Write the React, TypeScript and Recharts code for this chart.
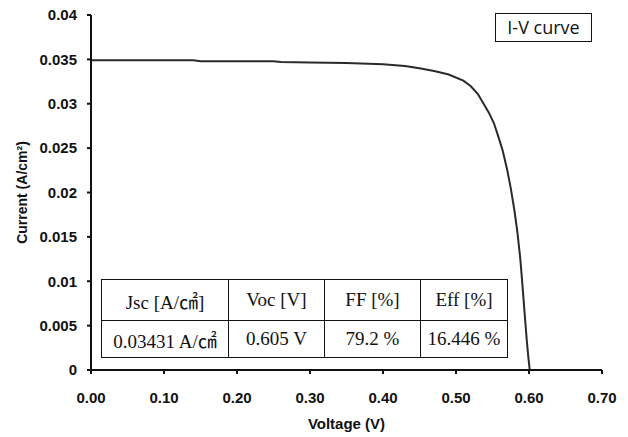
import { LineChart, Line, XAxis, YAxis, Label } from 'recharts';

const voltage = [
    0.0, 0.05, 0.1, 0.14, 0.15, 0.2, 0.25, 0.26, 0.3, 0.35, 0.4, 0.43, 0.45, 0.47, 0.49,
    0.51, 0.52, 0.53, 0.537, 0.545, 0.552, 0.558, 0.564, 0.57, 0.575, 0.58, 0.584, 0.588,
    0.591, 0.594, 0.597, 0.599, 0.601,
];
const current = [
    0.0349, 0.0349, 0.0349, 0.0349, 0.0348, 0.03479, 0.03478, 0.0347, 0.03465, 0.0346,
    0.03445, 0.03425, 0.034, 0.0337, 0.0333, 0.0326, 0.032, 0.0311, 0.0301, 0.029, 0.0278,
    0.0263, 0.0247, 0.0226, 0.0205, 0.018, 0.0156, 0.0126, 0.0096, 0.0064, 0.0033, 0.0015, 0.0,
];

const xTicks = [0, 0.1, 0.2, 0.3, 0.4, 0.5, 0.6, 0.7];
const yTicks = [0, 0.005, 0.01, 0.015, 0.02, 0.025, 0.03, 0.035, 0.04];

const tableHeaders = ['Jsc [A/㎠]', 'Voc [V]', 'FF [%]', 'Eff [%]'];
const tableValues = ['0.03431 A/㎠', '0.605 V', '79.2 %', '16.446 %'];
const colWidths = [126, 95, 95, 86];

const data = voltage.map((v, i) => ({ v, i: current[i] }));

const axisFont = "'Liberation Sans', Arial, sans-serif";

const cellStyle = (w: number, h: number) => ({
    width: w,
    height: h,
    border: '1.5px solid #111',
    textAlign: 'center' as const,
    padding: 0,
    whiteSpace: 'nowrap' as const,
});

export default function App() {
    return (
        <div style={{ position: 'absolute', left: 0, top: 0, width: 628, height: 437, background: '#fff' }}>
            <LineChart
                width={628}
                height={437}
                data={data}
                margin={{ top: 15, right: 26, left: 0, bottom: 17 }}
            >
                <XAxis
                    dataKey="v"
                    type="number"
                    domain={[0, 0.7]}
                    ticks={xTicks}
                    tickFormatter={(val: number) => val.toFixed(2)}
                    height={50}
                    stroke="#111"
                    strokeWidth={2}
                    tickSize={4}
                    tickMargin={18}
                    tick={{ fill: '#111', fontSize: 15, fontWeight: 'bold', fontFamily: axisFont }}
                >
                    <Label
                        value="Voltage (V)"
                        position="insideBottom"
                        offset={-9}
                        style={{ fill: '#111', fontSize: 15, fontWeight: 'bold', fontFamily: axisFont }}
                    />
                </XAxis>
                <YAxis
                    dataKey="i"
                    type="number"
                    domain={[0, 0.04]}
                    ticks={yTicks}
                    width={91}
                    stroke="#111"
                    strokeWidth={2}
                    tickSize={4}
                    tickMargin={10}
                    tick={{ fill: '#111', fontSize: 15, fontWeight: 'bold', fontFamily: axisFont }}
                >
                    <Label
                        value="Current (A/cm²)"
                        angle={-90}
                        position="insideLeft"
                        offset={22}
                        style={{ fill: '#111', fontSize: 14, fontWeight: 'bold', fontFamily: axisFont, textAnchor: 'middle' }}
                    />
                </YAxis>
                <Line
                    dataKey="i"
                    type="linear"
                    stroke="#2a2a2a"
                    strokeWidth={2}
                    dot={false}
                    isAnimationActive={false}
                />
            </LineChart>

            <div
                style={{
                    position: 'absolute',
                    left: 495,
                    top: 13,
                    width: 95,
                    height: 27,
                    border: '1.5px solid #111',
                    fontFamily: "'Open Sans', 'Liberation Sans', sans-serif",
                    fontSize: 18,
                    lineHeight: '27px',
                    textAlign: 'center',
                    color: '#111',
                    background: '#fff',
                }}
            >
                I-V curve
            </div>

            <table
                style={{
                    position: 'absolute',
                    left: 101,
                    top: 279,
                    borderCollapse: 'collapse',
                    fontFamily: "'Liberation Serif', 'Times New Roman', 'Noto Sans CJK JP', serif",
                    fontSize: 19,
                    color: '#111',
                    background: '#fff',
                }}
            >
                <tbody>
                    <tr>
                        {tableHeaders.map((t, k) => (
                            <td key={k} style={cellStyle(colWidths[k], 40)}>{t}</td>
                        ))}
                    </tr>
                    <tr>
                        {tableValues.map((t, k) => (
                            <td key={k} style={cellStyle(colWidths[k], 36)}>{t}</td>
                        ))}
                    </tr>
                </tbody>
            </table>
        </div>
    );
}
